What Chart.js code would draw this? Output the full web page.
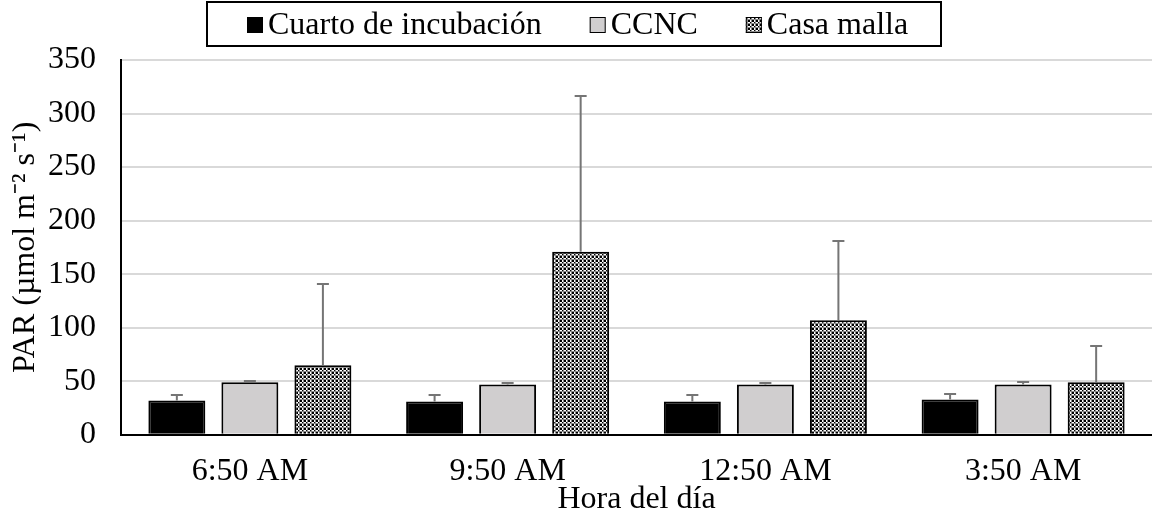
<!DOCTYPE html>
<html>
<head>
<meta charset="utf-8">
<script src="https://cdn.jsdelivr.net/npm/chart.js@4.4.0/dist/chart.umd.min.js"></script>
<style>
  html, body { margin: 0; padding: 0; background: #fff; }
  #wrap { width: 1152px; height: 516px; }
</style>
</head>
<body>
<div id="wrap"><canvas id="c" width="1152" height="516"></canvas></div>
<script>
const categories = ["6:50 AM", "9:50 AM", "12:50 AM", "3:50 AM"];
const seriesNames = ["Cuarto de incubación", "CCNC", "Casa malla"];
const cuarto = [32, 31, 31, 33];
const ccnc = [49, 47, 47, 47];
const casaMalla = [65, 171, 107, 49];
const cuartoErr = [5, 6, 6, 5];
const ccncErr = [1.5, 1.5, 1.5, 2];
const casaMallaErr = [76, 145, 74, 34];
const yTicks = [0, 50, 100, 150, 200, 250, 300, 350];

const FONT = "'Liberation Serif', 'Times New Roman', serif";
const FS = 32;

// checkerboard fill for "Casa malla"
function makePattern() {
  const p = document.createElement("canvas");
  p.width = 4; p.height = 4;
  const g = p.getContext("2d");
  g.fillStyle = "#ffffff"; g.fillRect(0, 0, 4, 4);
  g.fillStyle = "#000000";
  g.fillRect(0, 0, 2, 2); g.fillRect(2, 2, 2, 2);
  g.fillStyle = "#8a8a8a";
  g.fillRect(0, 3, 4, 1); g.fillRect(3, 0, 1, 4);
  return document.getElementById("c").getContext("2d").createPattern(p, "repeat");
}
const pattern = makePattern();

const errorBars = {
  id: "errorBars",
  afterDatasetsDraw(chart) {
    const ctx = chart.ctx;
    const y = chart.scales.y;
    ctx.save();
    ctx.strokeStyle = "#757575";
    ctx.lineWidth = 2;
    chart.data.datasets.forEach((ds, i) => {
      const meta = chart.getDatasetMeta(i);
      meta.data.forEach((bar, j) => {
        const top = Math.round(y.getPixelForValue(ds.data[j] + ds.err[j]));
        ctx.beginPath();
        ctx.moveTo(bar.x, bar.y);
        ctx.lineTo(bar.x, top);
        ctx.moveTo(bar.x - 6, top);
        ctx.lineTo(bar.x + 6, top);
        ctx.stroke();
      });
    });
    ctx.restore();
  }
};

const boxLegend = {
  id: "boxLegend",
  afterDraw(chart) {
    const ctx = chart.ctx;
    ctx.save();
    ctx.font = FS + "px " + FONT;
    ctx.textBaseline = "middle";
    const sq = 16, gapTxt = 5, gapItem = 48;
    const widths = chart.data.datasets.map(d => sq + gapTxt + ctx.measureText(d.label).width);
    const total = widths.reduce((a, b) => a + b, 0) + gapItem * (widths.length - 1);
    const boxL = 207, boxR = 941, boxT = 2, boxB = 46;
    ctx.strokeStyle = "#000"; ctx.lineWidth = 2;
    ctx.strokeRect(boxL, boxT, boxR - boxL, boxB - boxT);
    let x = Math.round((boxL + boxR) / 2 - total / 2) + 4;
    const cy = (boxT + boxB) / 2 + 1;
    chart.data.datasets.forEach((d, i) => {
      ctx.fillStyle = d.backgroundColor;
      ctx.fillRect(x, cy - sq / 2, sq, sq);
      ctx.lineWidth = 1; ctx.strokeStyle = "#000";
      ctx.strokeRect(x + 0.5, cy - sq / 2 + 0.5, sq - 1, sq - 1);
      ctx.fillStyle = "#000";
      ctx.fillText(d.label, x + sq + gapTxt, cy + 1);
      x += widths[i] + gapItem;
    });
    ctx.restore();
  }
};

new Chart(document.getElementById("c"), {
  type: "bar",
  data: {
    labels: categories,
    datasets: [
      { label: seriesNames[0], data: cuarto, err: cuartoErr, backgroundColor: "#000000" },
      { label: seriesNames[1], data: ccnc, err: ccncErr, backgroundColor: "#d0cecf" },
      { label: seriesNames[2], data: casaMalla, err: casaMallaErr, backgroundColor: pattern }
    ].map(d => Object.assign(d, {
      borderColor: "#000", borderWidth: 2, borderSkipped: "bottom",
      categoryPercentage: 0.85, barPercentage: 0.78
    }))
  },
  options: {
    responsive: false,
    animation: false,
    layout: { padding: { top: 60, right: 0, left: 10, bottom: 0 } },
    plugins: {
      legend: { display: false },
      tooltip: { enabled: false }
    },
    scales: {
      x: {
        grid: { display: false },
        border: { color: "#000", width: 2 },
        ticks: { color: "#000", font: { family: FONT, size: FS, lineHeight: 1.1 }, padding: 11 },
        title: { display: true, text: "Hora del día", color: "#000", font: { family: FONT, size: FS, lineHeight: 1.0 }, padding: { top: -16, bottom: 0 } }
      },
      y: {
        min: 0, max: 350,
        afterBuildTicks(axis) { axis.ticks = yTicks.map(v => ({ value: v })); },
        grid: { color: "#d9d9d9", lineWidth: 2, drawTicks: false },
        border: { color: "#000", width: 2 },
        ticks: { color: "#000", font: { family: FONT, size: FS }, padding: 25 },
        title: { display: true, text: "PAR (µmol m⁻² s⁻¹)", color: "#000", font: { family: FONT, size: FS, lineHeight: 1.0 }, padding: { top: 0, bottom: -19 } }
      }
    }
  },
  plugins: [errorBars, boxLegend]
});
</script>
</body>
</html>
